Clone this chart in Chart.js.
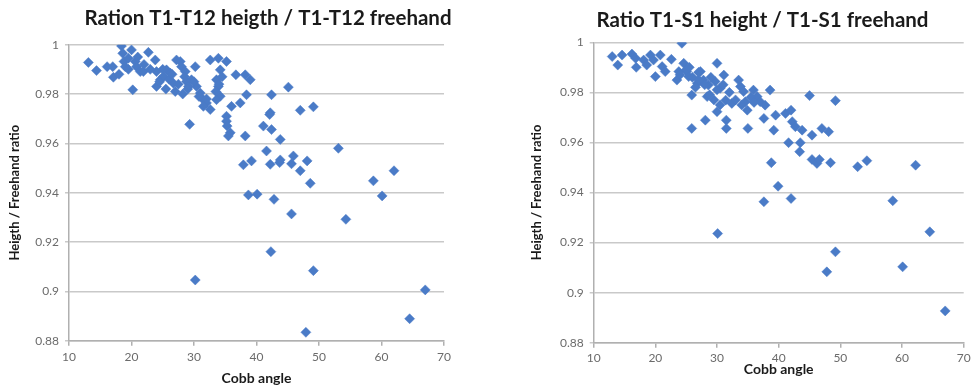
<!DOCTYPE html>
<html lang="en">
<head>
    <meta charset="UTF-8">
    <title>Cobb angle ratios</title>
    <script src="https://cdn.jsdelivr.net/npm/chart.js"></script>
    <style>
        body { margin: 0; background: #fff; width: 974px; height: 387px; overflow: hidden; position: relative; }
        .box { position: absolute; top: 0; height: 387px; }
        #leftBox { left: 0; width: 536px; }
        #rightBox { left: 520px; width: 485px; }
    </style>
</head>
<body>
    <div class="box" id="leftBox"><canvas id="leftChart" width="536" height="387"></canvas></div>
    <div class="box" id="rightBox"><canvas id="rightChart" width="485" height="387"></canvas></div>

    <script>
        // T1-T12: Cobb angle / ratio
        var t12Cobb = [13.1, 14.4, 16.1, 17.1, 17.0, 18.4, 18.6, 18.8, 19.0, 19.5, 20.0, 20.2, 20.6, 20.8, 21.4, 21.9, 22.7, 23.8,
            24.0, 24.0, 24.6, 25.1, 25.6, 26.2, 26.7, 27.2, 27.8, 28.0, 28.6, 28.8, 29.1, 29.6, 30.2, 30.4, 31.0, 31.5, 32.0,
            32.6, 32.6, 33.9, 34.2, 33.6, 33.9, 34.2, 33.6, 35.2, 36.0, 36.7, 37.4, 38.2, 38.4, 39.0, 29.3, 35.2, 35.2, 35.3,
            35.8, 35.5, 38.2, 42.4, 45.1, 42.2, 42.1, 41.1, 42.4, 43.8, 47.0, 49.1, 41.6, 53.1, 37.9, 39.2, 42.2, 43.7, 43.8,
            45.6, 45.9, 47.0, 48.1, 48.6, 58.7, 62.0, 38.7, 40.1, 42.8, 45.6, 54.3, 60.1, 42.3, 49.1, 30.2, 67.0, 64.5, 47.9,
            24.5, 25.5, 26.0, 27.0, 27.5, 28.2, 29.0, 30.0, 30.8, 25.0, 26.5, 28.5, 22.0, 21.0, 19.5, 18.0, 23.0, 31.5, 32.0,
            34.0, 34.5, 33.5];
        var t12Ratio = [0.9928, 0.9895, 0.9911, 0.9868, 0.9911, 0.9995, 0.9965, 0.9932, 0.9911, 0.9945, 0.9979, 0.9817, 0.9932,
            0.9911, 0.9891, 0.9891, 0.9969, 0.9938, 0.9891, 0.9831, 0.9858, 0.9871, 0.9898, 0.9885, 0.9844, 0.9938, 0.9932,
            0.9911, 0.9891, 0.9851, 0.9831, 0.9858, 0.9911, 0.9831, 0.9804, 0.9777, 0.9764, 0.9737, 0.9938, 0.9945, 0.9898,
            0.9858, 0.9831, 0.9791, 0.9777, 0.9932, 0.9750, 0.9878, 0.9764, 0.9878, 0.9797, 0.9858, 0.9677, 0.9710, 0.9690,
            0.9670, 0.9643, 0.9630, 0.9630, 0.9797, 0.9828, 0.9724, 0.9717, 0.9670, 0.9656, 0.9616, 0.9734, 0.9748, 0.9569,
            0.9580, 0.9513, 0.9529, 0.9515, 0.9522, 0.9533, 0.9517, 0.9549, 0.9489, 0.9529, 0.9438, 0.9448, 0.9489, 0.9391,
            0.9394, 0.9373, 0.9314, 0.9292, 0.9387, 0.9161, 0.9084, 0.9046, 0.9006, 0.8889, 0.8834,
            0.985, 0.982, 0.986, 0.981, 0.984, 0.980, 0.982, 0.985, 0.979, 0.990, 0.988, 0.987, 0.992, 0.995, 0.990, 0.988,
            0.990, 0.975, 0.978, 0.984, 0.987, 0.981];

        // T1-S1: Cobb angle / ratio
        var s1Cobb = [13.0, 13.9, 14.6, 16.2, 16.8, 16.9, 18.1, 18.6, 19.2, 19.7, 20.0, 20.8, 21.1, 21.6, 22.6, 23.5, 24.3, 24.6,
            23.8, 25.1, 25.4, 25.9, 25.9, 26.8, 27.3, 27.8, 28.1, 28.4, 28.6, 30.0, 30.0, 29.7, 30.5, 31.1, 31.5, 31.5, 31.4,
            32.4, 33.5, 33.8, 34.3, 34.6, 34.9, 35.0, 35.9, 36.5, 37.0, 37.8, 37.6, 38.6, 39.2, 39.5, 41.1, 42.0, 42.2, 42.7,
            43.8, 41.6, 43.5, 43.4, 45.0, 45.4, 47.0, 48.1, 49.2, 45.4, 46.2, 46.6, 48.4, 38.8, 52.8, 54.3, 62.2, 39.9, 37.6,
            42.0, 58.5, 30.1, 64.5, 49.2, 47.8, 60.1, 67.0,
            24.0, 25.0, 26.0, 27.0, 28.0, 29.0, 30.0, 31.0, 32.0, 26.5, 28.8, 27.0, 25.5, 33.0, 34.0, 35.5, 36.0, 30.5, 29.5];
        var s1Ratio = [0.9943, 0.9909, 0.9949, 0.9953, 0.9936, 0.9900, 0.9929, 0.9909, 0.9949, 0.9929, 0.9863, 0.9949, 0.9903,
            0.9883, 0.9932, 0.9849, 0.9996, 0.9916, 0.9883, 0.9883, 0.9863, 0.9789, 0.9656, 0.9836, 0.9883, 0.9849, 0.9689,
            0.9783, 0.9829, 0.9916, 0.9723, 0.9843, 0.9816, 0.9869, 0.9689, 0.9656, 0.9769, 0.9756, 0.9849, 0.9823, 0.9803,
            0.9763, 0.9729, 0.9656, 0.9809, 0.9783, 0.9763, 0.9749, 0.9696, 0.9809, 0.9649, 0.9709, 0.9716, 0.9729, 0.9683,
            0.9663, 0.9649, 0.9599, 0.9599, 0.9563, 0.9787, 0.9629, 0.9656, 0.9643, 0.9767, 0.9532, 0.9516, 0.9532, 0.9519,
            0.9519, 0.9503, 0.9527, 0.9509, 0.9425, 0.9363, 0.9376, 0.9367, 0.9236, 0.9243, 0.9163, 0.9083, 0.9103, 0.8927,
            0.987, 0.989, 0.986, 0.985, 0.983, 0.986, 0.981, 0.983, 0.980, 0.982, 0.979, 0.988, 0.990, 0.977, 0.975, 0.978,
            0.976, 0.975, 0.977];

        var xTicks = [10, 20, 30, 40, 50, 60, 70];
        var yTicks = [0.88, 0.9, 0.92, 0.94, 0.96, 0.98, 1];

        var markerColor = '#4a7bc7';
        var gridColor = '#c9c9c9';
        var axisColor = '#b0b0b0';
        var tickColor = '#6b6b6b';

        // 画一个散点图, g 是画布里的绘图区位置
        function drawScatter(id, titleText, cobb, ratio, g) {
            var points = cobb.map(function(c, i) { return {x: c, y: ratio[i]}; });
            var ctx = document.getElementById(id).getContext('2d');
            return new Chart(ctx, {
                type: 'scatter',
                data: {
                    datasets: [{
                        data: points,
                        pointStyle: 'rectRot',
                        pointRadius: 5,
                        backgroundColor: markerColor,
                        borderColor: markerColor,
                        borderWidth: 0.5
                    }]
                },
                options: {
                    responsive: false,
                    animation: false,
                    layout: { padding: 0 },
                    plugins: {
                        legend: { display: false },
                        tooltip: { enabled: false },
                        title: {
                            display: true,
                            text: titleText,
                            color: '#1a1a1a',
                            font: { family: 'Lato', size: 20.5, weight: 'bold', lineHeight: 1.2 },
                            padding: { top: g.titleTop, bottom: g.titleBottom }
                        }
                    },
                    scales: {
                        x: {
                            type: 'linear',
                            min: xTicks[0],
                            max: xTicks[xTicks.length - 1],
                            afterBuildTicks: function(s) { s.ticks = xTicks.map(function(v) { return {value: v}; }); },
                            afterFit: function(s) { s.height = 387 - g.bottom; },
                            grid: { drawOnChartArea: false, drawTicks: true, tickLength: 5, color: axisColor, lineWidth: 1.5 },
                            border: { display: true, color: axisColor, width: 1.5 },
                            ticks: { color: tickColor, padding: g.xTickPad, font: { family: 'Lato', size: 12 } },
                            title: {
                                display: true,
                                text: 'Cobb angle',
                                color: '#1a1a1a',
                                font: { family: 'Lato', size: 14, weight: 'bold', lineHeight: 1.2 },
                                padding: { top: 0, bottom: g.xTitleBottom }
                            }
                        },
                        y: {
                            type: 'linear',
                            min: yTicks[0],
                            max: yTicks[yTicks.length - 1],
                            afterBuildTicks: function(s) { s.ticks = yTicks.map(function(v) { return {value: v}; }); },
                            afterFit: function(s) { s.width = g.left; },
                            grid: { color: gridColor, lineWidth: 1.5, drawTicks: true, tickLength: 4 },
                            border: { display: true, color: axisColor, width: 1.5 },
                            ticks: {
                                color: tickColor,
                                padding: 6,
                                font: { family: 'Lato', size: 12 },
                                callback: function(v) { return String(+v.toFixed(2)); }
                            },
                            title: {
                                display: true,
                                text: 'Heigth / Freehand ratio',
                                color: '#1a1a1a',
                                font: { family: 'Lato', size: 13, weight: 'bold', lineHeight: 1.2 },
                                padding: { top: g.yTitleLeft, bottom: 0 }
                            }
                        },
                        // 右边留白
                        pad: {
                            type: 'linear',
                            position: 'right',
                            display: true,
                            afterFit: function(s) { s.width = g.padRight; },
                            grid: { display: false },
                            border: { display: false },
                            ticks: { display: false }
                        }
                    }
                }
            });
        }

        drawScatter('leftChart', 'Ration T1-T12 heigth / T1-T12 freehand', t12Cobb, t12Ratio, {
            left: 69, bottom: 340.7, padRight: 92,
            titleTop: 5.7, titleBottom: 14.4,
            xTickPad: 4, xTitleBottom: 0.6, yTitleLeft: 7.2
        });

        drawScatter('rightChart', 'Ratio T1-S1 height / T1-S1 freehand', s1Cobb, s1Ratio, {
            left: 73.7, bottom: 342.7, padRight: 41.3,
            titleTop: 7.7, titleBottom: 10,
            xTickPad: 3, xTitleBottom: 9.6, yTitleLeft: 9.2
        });
    </script>
</body>
</html>
